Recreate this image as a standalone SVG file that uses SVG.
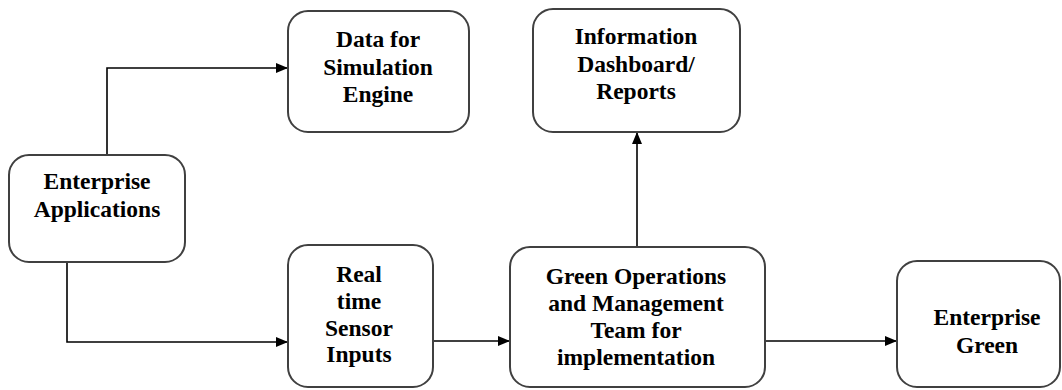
<svg xmlns="http://www.w3.org/2000/svg" width="1062" height="390" viewBox="0 0 1062 390">
<defs>
<marker id="arr" viewBox="0 0 12 10" refX="12" refY="5" markerWidth="12" markerHeight="10" markerUnits="userSpaceOnUse" orient="auto">
<path d="M0,0 L12,5 L0,10 Z" fill="#000"/>
</marker>
</defs>
<style>
.box{fill:#fff;stroke:#404040;stroke-width:2}
.t{font-family:"Liberation Serif","Times New Roman",serif;font-weight:bold;font-size:23.5px;fill:#000;text-anchor:middle}
.c{fill:none;stroke:#000;stroke-width:1.6;marker-end:url(#arr)}
</style>
<rect width="1062" height="390" fill="#fff"/>
<g id="connectors">
<path class="c" d="M107,155 V68 H288"/>
<path class="c" d="M67,262 V342 H288"/>
<path class="c" d="M433,341 H510"/>
<path class="c" d="M765,341 H897"/>
<path class="c" d="M637,247 V132"/>
</g>
<g id="enterprise-applications">
<rect class="box" x="9" y="155" width="176" height="107" rx="20"/>
<text class="t" x="97" y="189">Enterprise</text>
<text class="t" x="97" y="217">Applications</text>
</g>
<g id="data-simulation">
<rect class="box" x="288" y="11" width="181" height="121" rx="20"/>
<text class="t" x="378" y="47">Data for</text>
<text class="t" x="378" y="75">Simulation</text>
<text class="t" x="378" y="102">Engine</text>
</g>
<g id="information-dashboard">
<rect class="box" x="533" y="9" width="207" height="123" rx="20"/>
<text class="t" x="636" y="44">Information</text>
<text class="t" x="636" y="72">Dashboard/</text>
<text class="t" x="636" y="99">Reports</text>
</g>
<g id="real-time-sensor">
<rect class="box" x="288" y="245" width="145" height="142" rx="20"/>
<text class="t" x="359" y="282">Real</text>
<text class="t" x="359" y="309">time</text>
<text class="t" x="359" y="336">Sensor</text>
<text class="t" x="359" y="362">Inputs</text>
</g>
<g id="green-operations">
<rect class="box" x="510" y="247" width="255" height="140" rx="20"/>
<text class="t" x="636" y="284">Green Operations</text>
<text class="t" x="636" y="311">and Management</text>
<text class="t" x="636" y="338">Team for</text>
<text class="t" x="636" y="365">implementation</text>
</g>
<g id="enterprise-green">
<rect class="box" x="897" y="261" width="163" height="126" rx="20"/>
<text class="t" x="987" y="325">Enterprise</text>
<text class="t" x="987" y="353">Green</text>
</g>
</svg>
